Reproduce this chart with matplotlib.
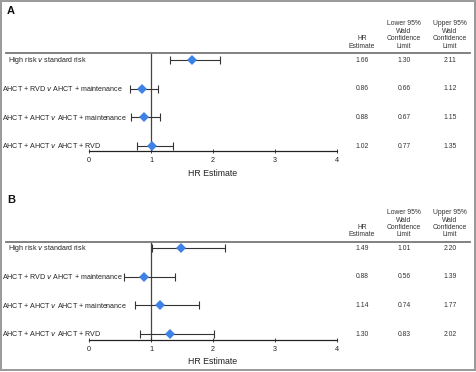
import matplotlib
matplotlib.use("Agg")
import matplotlib.pyplot as plt
from matplotlib.transforms import blended_transform_factory
from matplotlib.patches import Rectangle
import numpy as np

plt.rcParams['font.family'] = ['Liberation Sans', 'DejaVu Sans']

labels = ["High risk $\\it{v}$ standard risk",
          "AHCT + RVD $\\it{v}$ AHCT + maintenance",
          "AHCT + AHCT $\\it{v}$ AHCT + maintenance",
          "AHCT + AHCT $\\it{v}$ AHCT + RVD"]
label_x = [8, 2, 2, 2]

hr_a = [1.66, 0.86, 0.88, 1.02]
lo_a = [1.30, 0.66, 0.67, 0.77]
up_a = [2.11, 1.12, 1.15, 1.35]

hr_b = [1.49, 0.88, 1.14, 1.30]
lo_b = [1.01, 0.56, 0.74, 0.83]
up_b = [2.20, 1.39, 1.77, 2.02]

xticks = [0, 1, 2, 3, 4]
headers = [["HR", "Estimate"],
           ["Lower 95%", "Wald", "Confidence", "Limit"],
           ["Upper 95%", "Wald", "Confidence", "Limit"]]
col_x = [362, 404, 450]

W, H = 477, 372
fig = plt.figure(figsize=(W / 100, H / 100), dpi=100)

def fx(px):
    return px / W

def fy(py):
    return 1 - py / H

txt_col = "#222222"

def panel(letter, hr, lo, up, top_px, axis_px, row_top_px, row_bot_px, xlabel_px):
    left = fx(89)
    width = fx(337) - fx(89)
    bottom = fy(axis_px)
    height = fy(top_px) - fy(axis_px)
    ax = fig.add_axes([left, bottom, width, height])
    scale = (row_bot_px - row_top_px) / 3.0
    ax.set_ylim(-(axis_px - row_bot_px) / scale, 3 + (row_top_px - top_px) / scale)
    ax.set_xlim(0, 4)
    ypos = np.arange(len(hr))[::-1]
    hr = np.array(hr); lo = np.array(lo); up = np.array(up)
    ax.errorbar(hr, ypos, xerr=[hr - lo, up - hr], fmt='none', ecolor='#333333',
                elinewidth=0.8, capsize=2.6, capthick=0.8, zorder=2)
    ax.plot(hr, ypos, 'D', color='#3f82e6', markersize=5.2, markeredgewidth=0, zorder=3)
    ax.axvline(1, color='#444444', lw=0.9, zorder=1)
    for s in ['top', 'right', 'left']:
        ax.spines[s].set_visible(False)
    ax.spines['bottom'].set_color('#222222')
    ax.spines['bottom'].set_linewidth(0.9)
    ax.set_yticks([])
    ax.set_xticks(xticks)
    ax.set_xticklabels([str(t) for t in xticks])
    ax.tick_params(axis='x', direction='inout', length=3, width=0.6, labelsize=5.2,
                   colors='#222222', pad=3)
    ax.patch.set_alpha(0)
    # top separator line
    fig.add_artist(plt.Line2D([fx(6), fx(470)], [fy(top_px), fy(top_px)],
                              color='#777777', lw=1.3))
    # letter
    fig.text(fx(7), fy(top_px - 42), letter, fontsize=8, fontweight='bold',
             color='#111111', ha='left', va='center')
    # row labels and values
    tr = blended_transform_factory(fig.transFigure, ax.transData)
    for i, lab in enumerate(labels):
        ax.text(fx(label_x[i]), ypos[i], lab, transform=tr, fontsize=5.1,
                ha='left', va='center', color=txt_col)
        for cx, v in zip(col_x, [hr[i], lo[i], up[i]]):
            ax.text(fx(cx), ypos[i], f"{v:.2f}", transform=tr, fontsize=4.9,
                    ha='center', va='center', color='#333333')
    # headers
    for cx, lines in zip(col_x, headers):
        n = len(lines)
        for j, line in enumerate(lines):
            py = top_px - 7 - (n - 1 - j) * 7.4
            fig.text(fx(cx), fy(py), line, fontsize=4.9, ha='center', va='center',
                     color='#333333')
    fig.text(fx(213), fy(xlabel_px), "HR Estimate", fontsize=6.3, ha='center',
             va='center', color=txt_col)
    return ax

panel("A", hr_a, lo_a, up_a, 53, 151, 60, 146, 173)
panel("B", hr_b, lo_b, up_b, 242, 340, 248, 334, 362)

fig.add_artist(Rectangle((0.5 / W, 2.5 / H), 1 - 2.5 / W, 1 - 3.5 / H,
                         transform=fig.transFigure, fill=False,
                         edgecolor='#999999', lw=1.4))

fig.savefig("out.png", dpi=100)
